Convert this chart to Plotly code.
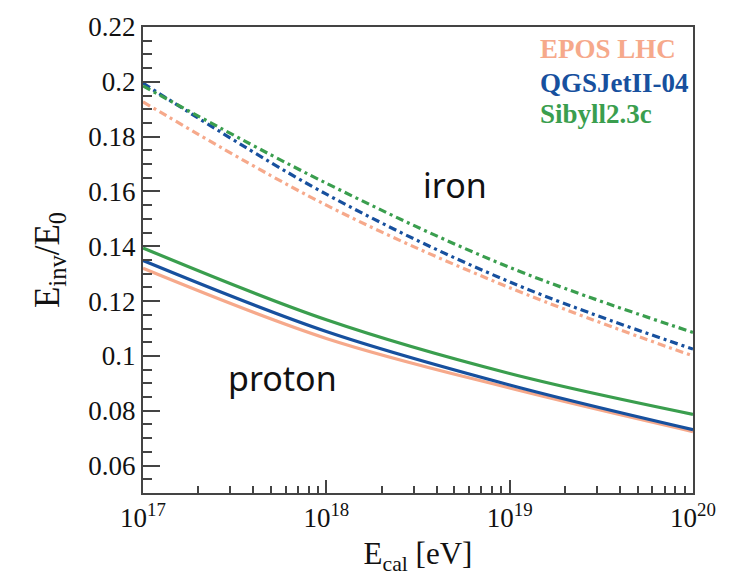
import plotly.graph_objects as go

# Energy points (eV)
energy = [1e17, 1e18, 1e19, 1e20]

# Proton (solid lines)
proton_epos = [0.1320, 0.1064, 0.0883, 0.0724]
proton_qgs = [0.1348, 0.1089, 0.0894, 0.0731]
proton_sib = [0.1394, 0.1132, 0.0936, 0.0787]

# Iron (dash-dot lines)
iron_epos = [0.1927, 0.1550, 0.1249, 0.1000]
iron_qgs = [0.1995, 0.1590, 0.1270, 0.1025]
iron_sib = [0.1985, 0.1630, 0.1323, 0.1086]

models = ["EPOS LHC", "QGSJetII-04", "Sibyll2.3c"]
colors = ["#F6A98B", "#17509E", "#3A9E4E"]

x_ticks = [1e17, 1e18, 1e19, 1e20]
x_ticktext = ["10<sup>17</sup>", "10<sup>18</sup>", "10<sup>19</sup>", "10<sup>20</sup>"]
x_minor = [float(m) * 10.0 ** e for e in (17, 18, 19) for m in range(2, 10)]
y_ticks = [0.06, 0.08, 0.1, 0.12, 0.14, 0.16, 0.18, 0.2, 0.22]
y_ticktext = ["0.06", "0.08", "0.1", "0.12", "0.14", "0.16", "0.18", "0.2", "0.22"]

fig = go.Figure()
dashdot = "8px,4px,3px,4px"
for vals, col in zip([iron_epos, iron_qgs, iron_sib], colors):
    fig.add_trace(go.Scatter(x=energy, y=vals, mode="lines",
                             line=dict(color=col, width=3.2, dash=dashdot, shape="spline"),
                             showlegend=False))
for vals, col in zip([proton_epos, proton_qgs, proton_sib], colors):
    fig.add_trace(go.Scatter(x=energy, y=vals, mode="lines",
                             line=dict(color=col, width=3.2, shape="spline"),
                             showlegend=False))

axis_font = dict(family="Liberation Serif", size=27, color="#111")
fig.update_layout(
    width=737, height=577,
    margin=dict(l=143, r=44, t=17, b=80),
    plot_bgcolor="white", paper_bgcolor="white",
    xaxis=dict(type="log", range=[17, 20], tickvals=x_ticks, ticktext=x_ticktext,
               ticks="inside", ticklen=13, tickwidth=1.5, tickcolor="#444",
               showline=True, linecolor="#444", linewidth=2, mirror=True,
               showgrid=False, zeroline=False, tickfont=axis_font,
               minor=dict(tickmode="array", tickvals=x_minor, ticks="inside",
                          ticklen=7, tickwidth=1.5, tickcolor="#444", showgrid=False),
               title=dict(text="E<sub>cal</sub> [eV]",
                          font=dict(family="Liberation Serif", size=31, color="#111"),
                          standoff=10)),
    yaxis=dict(range=[0.05, 0.22], tickvals=y_ticks, ticktext=y_ticktext,
               ticks="inside", ticklen=17, tickwidth=1.5, tickcolor="#444",
               showline=True, linecolor="#444", linewidth=2, mirror=True,
               showgrid=False, zeroline=False, tickfont=axis_font,
               minor=dict(dtick=0.005, tick0=0.05, ticks="inside", ticklen=9,
                          tickwidth=1.5, tickcolor="#444", showgrid=False),
               title=dict(text="E<sub>inv</sub>/E<sub>0</sub>",
                          font=dict(family="Liberation Serif", size=35, color="#111"),
                          standoff=18)),
)

leg_y = [0.952, 0.879, 0.8125]
for name, col, yy in zip(models, colors, leg_y):
    fig.add_annotation(x=0.718, y=yy, xref="paper", yref="paper", text="<b>" + name + "</b>",
                       showarrow=False, xanchor="left", yanchor="middle",
                       font=dict(family="Liberation Serif", size=27, color=col))

fig.add_annotation(x=18.7, y=0.1625, xref="x", yref="y", text="iron", showarrow=False,
                   font=dict(family="Noto Sans", size=34, color="#111"))
fig.add_annotation(x=17.76, y=0.0918, xref="x", yref="y", text="proton", showarrow=False,
                   font=dict(family="Noto Sans", size=34, color="#111"))

fig.write_html("out.html")
